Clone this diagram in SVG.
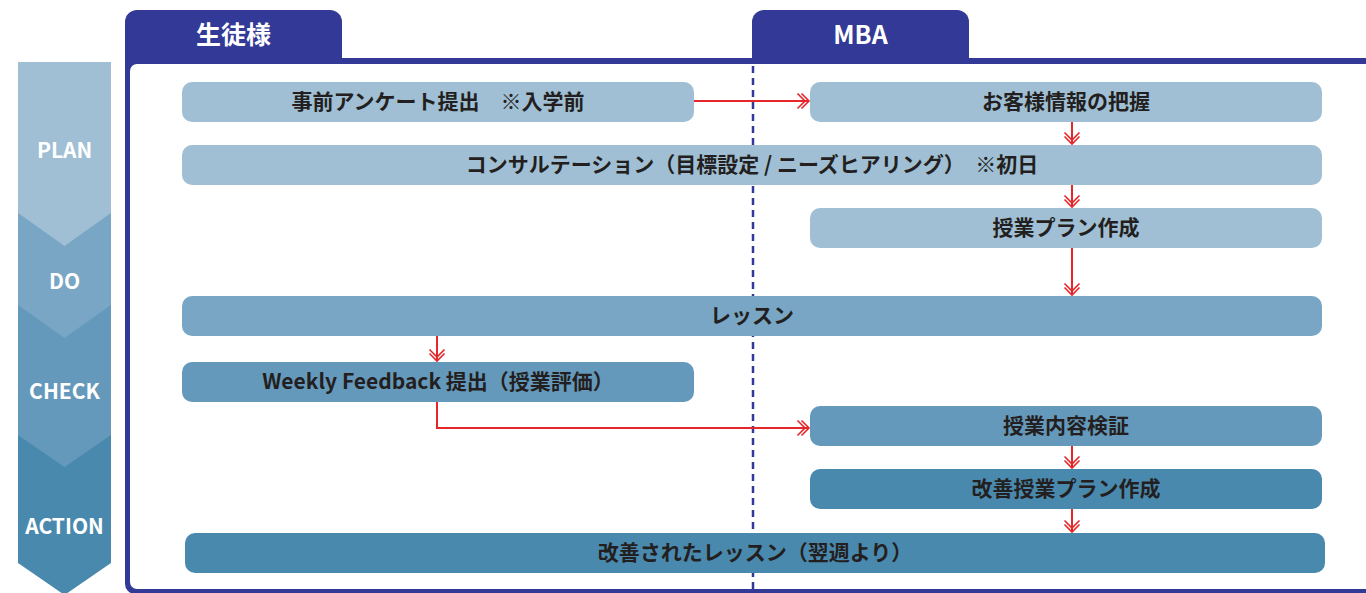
<svg xmlns="http://www.w3.org/2000/svg" width="1366" height="593" viewBox="0 0 1366 593">
  <style>
    .frame { fill: #333996; }
    .tabtxt { font-family: "Noto Sans CJK JP", "Noto Sans", sans-serif; font-weight: bold; font-size: 25px; fill: #ffffff; text-anchor: middle; }
    .phase { font-family: "Noto Sans CJK JP", "Noto Sans", sans-serif; font-weight: bold; font-size: 21px; fill: #ffffff; text-anchor: middle; }
    .box text { font-family: "Noto Sans CJK JP", "Noto Sans", sans-serif; font-weight: bold; font-size: 21px; fill: #231f20; text-anchor: middle; }
    .c1 { fill: #a0bfd4; }
    .c2 { fill: #78a6c4; }
    .c3 { fill: #6599bb; }
    .c4 { fill: #4a89ae; }
    .conn path { fill: none; stroke: #e5262b; stroke-width: 2; marker-end: url(#dbl); }
    .divider { stroke: #333996; stroke-width: 2.5; stroke-dasharray: 7 5; fill: none; }
  </style>
  <defs>
    <marker id="dbl" viewBox="-14 -9 16 18" refX="0" refY="0" markerWidth="16" markerHeight="18" markerUnits="userSpaceOnUse" orient="auto">
      <path d="M-7.5,-7.5 L0,0 L-7.5,7.5 M-11.5,-7.5 L-4,0 L-11.5,7.5" fill="none" stroke="#e5262b" stroke-width="1.6"/>
    </marker>
  </defs>

  <!-- PDCA column -->
  <g id="phases">
    <polygon class="c4" points="18,435 111,435 111,563 64.5,595 18,563"/>
    <polygon class="c3" points="18,305 111,305 111,435 64.5,467 18,435"/>
    <polygon class="c2" points="18,213 111,213 111,305 64.5,338 18,305"/>
    <polygon class="c1" points="18,62 111,62 111,213 64.5,246 18,213"/>
    <text class="phase" x="64.5" y="158">PLAN</text>
    <text class="phase" x="64.5" y="289">DO</text>
    <text class="phase" x="64.5" y="399">CHECK</text>
    <text class="phase" x="64.5" y="534">ACTION</text>
  </g>

  <!-- Frame with tabs -->
  <g id="frame">
    <rect class="frame" x="125" y="10" width="217" height="72" rx="12"/>
    <rect class="frame" x="752" y="10" width="217" height="72" rx="12"/>
    <rect class="frame" x="125" y="58" width="1320" height="536" rx="10"/>
    <rect x="130" y="64" width="1320" height="525" rx="7" fill="#ffffff"/>
    <text class="tabtxt" x="233.5" y="44">生徒様</text>
    <text class="tabtxt" x="860.5" y="44">MBA</text>
  </g>

  <line class="divider" x1="753" y1="66" x2="753" y2="593"/>

  <g id="n1" class="box"><rect class="c1" x="182" y="82" width="512" height="40" rx="10"/><text x="438" y="109">事前アンケート提出　※入学前</text></g>
  <g id="n2" class="box"><rect class="c1" x="810" y="82" width="512" height="40" rx="10"/><text x="1066" y="109">お客様情報の把握</text></g>
  <g id="n3" class="box"><rect class="c1" x="182" y="145" width="1140" height="40" rx="10"/><text x="752" y="172">コンサルテーション（目標設定 / ニーズヒアリング）　※初日</text></g>
  <g id="n4" class="box"><rect class="c1" x="810" y="208" width="512" height="40" rx="10"/><text x="1066" y="235">授業プラン作成</text></g>
  <g id="n5" class="box"><rect class="c2" x="182" y="296" width="1140" height="40" rx="10"/><text x="752" y="323">レッスン</text></g>
  <g id="n6" class="box"><rect class="c3" x="182" y="362" width="512" height="40" rx="10"/><text x="438" y="389">Weekly Feedback 提出（授業評価）</text></g>
  <g id="n7" class="box"><rect class="c3" x="810" y="406" width="512" height="40" rx="10"/><text x="1066" y="433">授業内容検証</text></g>
  <g id="n8" class="box"><rect class="c4" x="810" y="469" width="512" height="40" rx="10"/><text x="1066" y="496">改善授業プラン作成</text></g>
  <g id="n9" class="box"><rect class="c4" x="185" y="533" width="1140" height="40" rx="10"/><text x="755" y="560">改善されたレッスン（翌週より）</text></g>

  <g id="connectors" class="conn">
    <path d="M694,101 L809,101"/>
    <path d="M1072,122 L1072,144"/>
    <path d="M1072,185 L1072,207"/>
    <path d="M1072,248 L1072,295"/>
    <path d="M437,336 L437,361"/>
    <path d="M437,402 L437,428 L809,428"/>
    <path d="M1072,446 L1072,468"/>
    <path d="M1072,509 L1072,532"/>
  </g>
</svg>
